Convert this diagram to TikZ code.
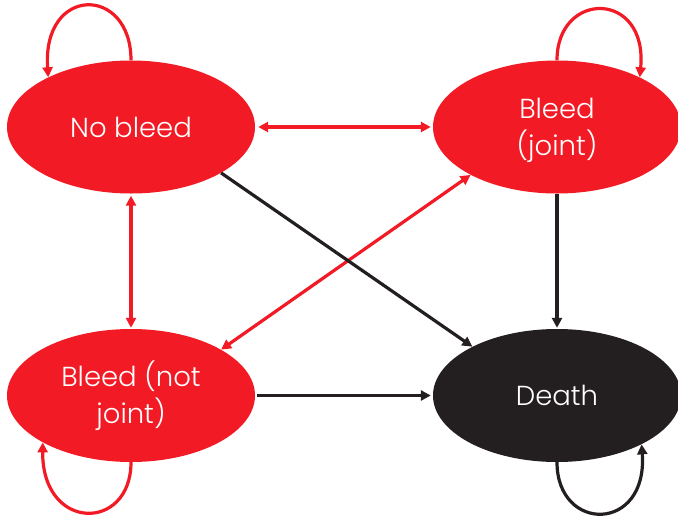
\documentclass[tikz,border=0pt]{standalone}
\usepackage{fontspec}
\setmainfont{Poppins}[UprightFont={* Light}]
\usetikzlibrary{shapes.geometric,arrows.meta}
\definecolor{myred}{RGB}{242,26,36}
\definecolor{myblack}{RGB}{35,31,32}
\tikzset{
  state/.style={ellipse, minimum width=248pt, minimum height=133pt, inner sep=0pt,
    text=white, font=\fontsize{27.5}{37}\selectfont, align=center},
  statetext/.style={text=white, font=\fontsize{27.5}{37}\selectfont, align=center, inner sep=0pt},
  redstate/.style={state, fill=myred},
  blackstate/.style={state, fill=myblack},
  tipa/.tip={Triangle[length=10pt,width=10pt]},
  redarr/.style={draw=myred, line width=3.2pt, -tipa},
  redboth/.style={draw=myred, line width=3.2pt, tipa-tipa},
  blackarr/.style={draw=myblack, line width=3.2pt, -tipa},
}
\begin{document}
\begin{tikzpicture}[x=1pt,y=1pt]
\useasboundingbox (0,0) rectangle (678,-517);
\node[redstate] (nb) at (131,-127) {No bleed};
\node[redstate] (bj) at (557,-127) {};
\node[statetext, yshift=-3pt] (bjtext) at (bj.center) {Bleed\\(joint)};
\node[redstate] (bnj) at (131,-395.5) {Bleed (not\\joint)};
\node[blackstate] (d) at (557,-395.5) {Death};

% straight connectors
\draw[redboth, shorten <=3pt, shorten >=2pt] (nb.east) -- (bj.west);
\draw[redboth, shorten <=2pt, shorten >=1pt] (nb.south) -- (bnj.north);
\draw[redboth] (bnj.27.6) -- (bj.209.2);
\draw[blackarr] (nb.-27.6) -- (d.150.8);
\draw[blackarr, shorten >=1pt] (bj.south) -- (d.north);
\draw[blackarr, shorten <=2pt, shorten >=2pt] (bnj.east) -- (d.west);

% self loops
\draw[redarr] (nb.north) .. controls (131,15) and (42,15) .. (nb.149.5);
\draw[redarr] (bj.north) .. controls (557,10) and (648,10) .. (bj.31);
\draw[redarr] (bnj.south) .. controls (131,-532) and (42,-532) .. (bnj.-152);
\draw[blackarr] (d.south) .. controls (557,-533) and (648,-533) .. (d.-30);
\end{tikzpicture}
\end{document}
